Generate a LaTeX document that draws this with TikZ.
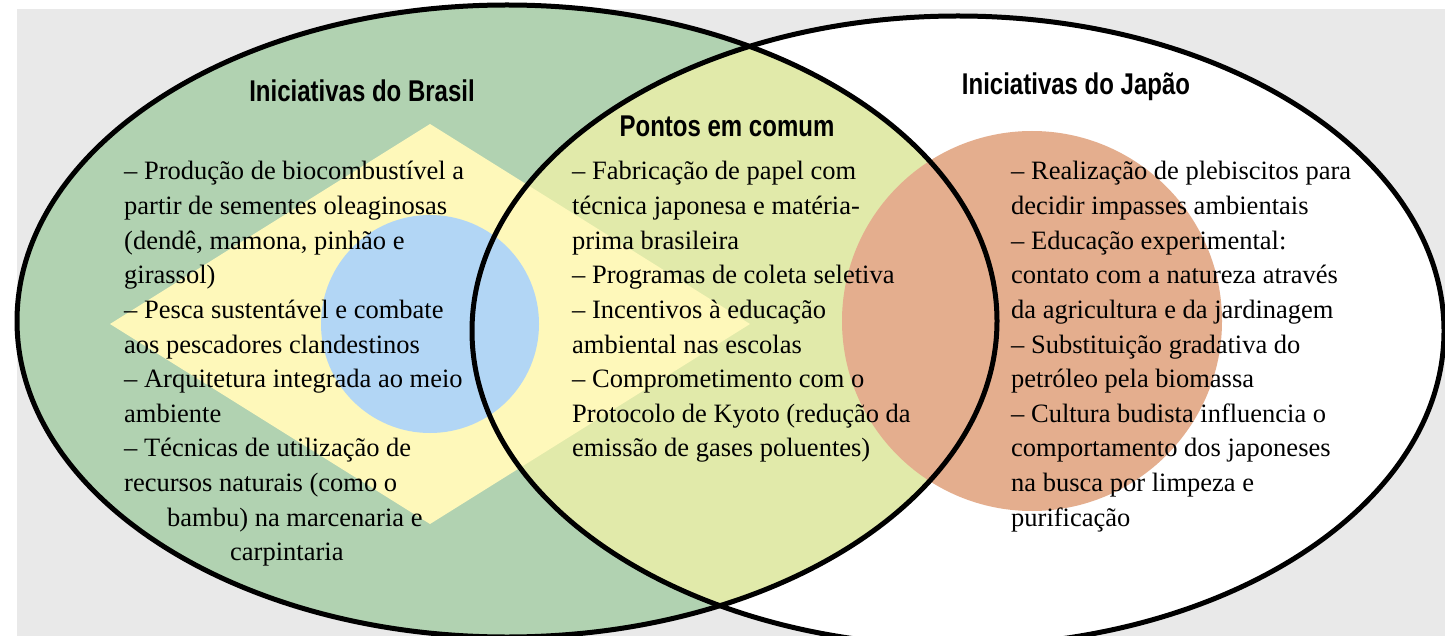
\documentclass[tikz,border=0pt]{standalone}
\usepackage{fontspec}
\setmainfont{Liberation Serif}
\newfontfamily\headfont[FakeStretch=0.8]{Liberation Sans}
\usetikzlibrary{positioning}

\definecolor{cinza}{RGB}{233,233,233}
\definecolor{verde}{RGB}{177,210,177}
\definecolor{amarelo}{RGB}{254,248,186}
\definecolor{azul}{RGB}{178,214,245}
\definecolor{pontos}{RGB}{225,234,170}
\definecolor{laranja}{RGB}{228,174,142}

\begin{document}
\begin{tikzpicture}[x=1pt, y=-1pt,
  every node/.style = {inner sep=0pt},
  heading/.style = {font=\headfont\bfseries\fontsize{30}{34}\selectfont, anchor=base},
  item/.style = {font=\fontsize{26.5}{34.6}\selectfont, anchor=base west},
  borda/.style = {draw=black, line width=5pt}]

  \useasboundingbox (0,0) rectangle (1445,636);
  \fill[cinza] (17,9) rectangle (1445,636);

  % conjuntos
  \fill[verde] (507,321) ellipse [x radius=490, y radius=316];
  \fill[white] (958,331) ellipse [x radius=486, y radius=315];
  \begin{scope}
    \clip (507,321) ellipse [x radius=490, y radius=316];
    \fill[pontos] (958,331) ellipse [x radius=486, y radius=315];
  \end{scope}

  % bandeiras
  \fill[amarelo] (110,324) -- (430,124) -- (750,324) -- (430,524) -- cycle;
  \fill[azul] (430,324) circle [radius=109];
  \fill[laranja] (1032,321) circle [radius=190];

  \draw[borda] (507,321) ellipse [x radius=490, y radius=316];
  \draw[borda] (958,331) ellipse [x radius=486, y radius=315];

  % titulos
  \node[heading] (brasil) at (362,101.7) {Iniciativas do Brasil};
  \node[heading] (comum) at (727,136.7) {Pontos em comum};
  \node[heading] (japao) at (1076,95) {Iniciativas do Japão};

  % textos
  \foreach \txt [count=\i from 0] in {%
      – Produção de biocombustível a,
      partir de sementes oleaginosas,
      {(dendê, mamona, pinhão e},
      girassol),
      – Pesca sustentável e combate,
      aos pescadores clandestinos,
      – Arquitetura integrada ao meio,
      ambiente,
      – Técnicas de utilização de,
      recursos naturais (como o}
    \node[item] (br\i) at ({124},{180+34.6*\i}) {\txt};
  \node[item] (br10) at ({167},{180+34.6*10}) {bambu) na marcenaria e};
  \node[item] (br11) at ({230},{180+34.6*11}) {carpintaria};

  \foreach \txt [count=\i from 0] in {%
      – Fabricação de papel com,
      técnica japonesa e matéria-,
      prima brasileira,
      – Programas de coleta seletiva,
      – Incentivos à educação,
      ambiental nas escolas,
      – Comprometimento com o,
      Protocolo de Kyoto (redução da,
      emissão de gases poluentes)}
    \node[item] (pc\i) at ({572},{180+34.6*\i}) {\txt};

  \foreach \txt [count=\i from 0] in {%
      – Realização de plebiscitos para,
      decidir impasses ambientais,
      – Educação experimental:,
      contato com a natureza através,
      da agricultura e da jardinagem,
      – Substituição gradativa do,
      petróleo pela biomassa,
      – Cultura budista influencia o,
      comportamento dos japoneses,
      na busca por limpeza e,
      purificação}
    \node[item] (jp\i) at ({1011},{180+34.6*\i}) {\txt};
\end{tikzpicture}
\end{document}
